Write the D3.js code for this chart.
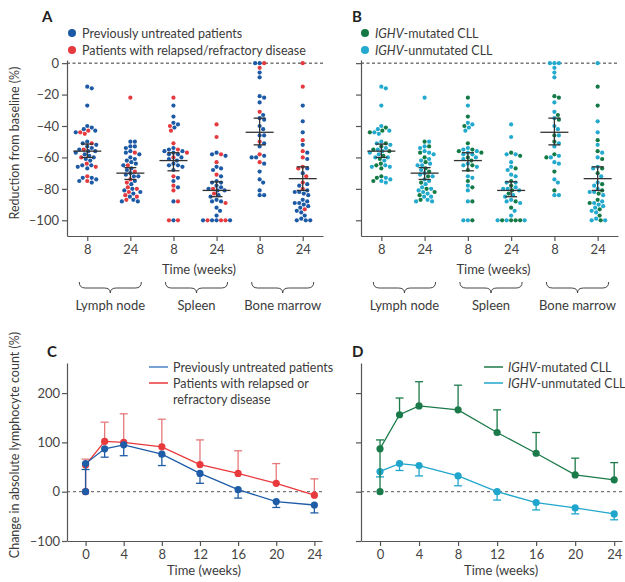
<!DOCTYPE html>
<meta charset="utf-8">
<style>
body { margin: 0; background: #fff; }
svg text { font-family: Lato, "Open Sans", sans-serif; fill: #3b3b3b; }
.axis path, .axis line { stroke: #555; stroke-width: 1.2; }
.axis text { font-size: 13px; fill: #444; font-family: Lato, "Open Sans", sans-serif; }
</style>
<script src="https://cdnjs.cloudflare.com/ajax/libs/d3/7.8.5/d3.min.js"></script>
<div id="chart"></div>
<script>
// categories
var sites = ["Lymph node", "Spleen", "Bone marrow"];
var weekTicks = ["8", "24"];
var columns = ["LN8", "LN24", "SP8", "SP24", "BM8", "BM24"];

// reduction from baseline (%) per patient; U/R = untreated / relapsed, M/N = IGHV mutated / unmutated
var lymph8 = [-15,-16,-27,-40,-41,-42,-43,-43,-44,-44,-45,-50,-51,-51,-52,-53,-54,-55,-55,-56,-56,-57,-58,-59,-60,-60,-61,-62,-64,-65,-65,-66,-66,-67,-72,-73,-73,-74,-75,-75,-76];
var lymph8Treat = "UUUUUURURURURUUUURUUUUUURUUURUURUURUUURUU";
var lymph8Ighv  = "NNNNMNMNNMNNMNNMNNMNMNNMNNMNMNMNNMMNMNNMN";

var lymph24 = [-22,-50,-50,-53,-53,-54,-56,-57,-57,-58,-60,-61,-62,-63,-64,-65,-65,-67,-68,-69,-70,-71,-72,-72,-74,-75,-76,-77,-79,-80,-80,-81,-82,-82,-83,-84,-85,-85,-87,-87,-88,-88];
var lymph24Treat = "RUUUUUURUUUUUUURUUURUUUURURURURURUURURURUU";
var lymph24Ighv  = "NMNNMNNNMNMNNMNNNMNMNNMNNNMNNMNNNMNMNNNMNN";

var spleen8 = [-22,-27,-34,-38,-39,-40,-41,-43,-51,-54,-55,-55,-56,-56,-57,-57,-58,-58,-60,-60,-61,-62,-64,-65,-65,-66,-68,-72,-73,-75,-78,-79,-81,-88,-88,-100,-100,-100];
var spleen8Treat = "RUUUURURRURUUUURUURUUUUUUUURUURURURURR";
var spleen8Ighv  = "MNMNNMNNMNMNNMNMNNMNNMNMNNMNNMNMNNMNMN";

var spleen24 = [-39,-47,-57,-58,-58,-59,-63,-66,-67,-68,-71,-72,-75,-76,-76,-78,-79,-80,-80,-81,-81,-83,-84,-85,-87,-88,-88,-89,-92,-94,-97,-100,-100,-100,-100,-100,-100,-100];
var spleen24Treat = "RRURUURUUURUUUUUURUUURUUUUURUUUURURRUU";
var spleen24Ighv  = "NNMNNMNNMNNNMNNMNNNMNMNNNMNNMNNMMNMMNN";

var marrow8 = [0,0,0,-3,-6,-9,-21,-22,-25,-31,-33,-35,-36,-40,-42,-46,-46,-50,-51,-53,-58,-59,-60,-60,-63,-64,-69,-74,-76,-81,-84,-84];
var marrow8Treat = "URURUUUUURUUUUUUURUURUUURUUUUUUU";
var marrow8Ighv  = "NNNNNNMMNNMNMNNMNMNNMNNMNNMNNMNN";

var marrow24 = [0,-15,-27,-37,-44,-49,-52,-56,-57,-60,-61,-66,-67,-67,-70,-72,-76,-77,-78,-80,-81,-82,-82,-83,-84,-87,-88,-89,-89,-90,-91,-92,-93,-94,-95,-97,-99,-100,-100,-100];
var marrow24Treat = "RRUUURURURURURURRUURUUUUUUUUUUUURUUUUUUU";
var marrow24Ighv  = "NMMNNMNMNNMNMNMNNMNNMNNMNMNNMNNNMNNMNMNN";

// mean and 95% CI per column
var colMean = [-56, -70, -62, -81, -44, -73.5];
var colLow  = [-60, -74, -68.5, -85, -52, -81];
var colHigh = [-51.5, -66.5, -57, -75.5, -35, -66];

// change in absolute lymphocyte count (%)
var lcWeeks = [0, 0, 2, 4, 8, 12, 16, 20, 24];
var untreatedMean = [0, 57, 87, 95, 76, 37, 4, -20, -27];
var untreatedLow  = [null, 45, 70, 73, 53, 17, -13, -32, -43];
var relapsedMean  = [0, 54, 102, 100, 91, 55, 37, 17, -7];
var relapsedHigh  = [null, 66, 141, 158, 147, 105, 83, 57, 26];
var mutatedMean   = [0, 87, 156, 174, 166, 120, 78, 34, 24];
var mutatedHigh   = [null, 105, 190, 223, 216, 166, 120, 68, 59];
var unmutatedMean = [null, 41, 57, 53, 32, 0, -22, -33, -45];
var unmutatedLow  = [null, 30, 43, 32, 12, -17, -37, -45, -57];

var colVals  = [lymph8, lymph24, spleen8, spleen24, marrow8, marrow24];
var colTreat = [lymph8Treat, lymph24Treat, spleen8Treat, spleen24Treat, marrow8Treat, marrow24Treat];
var colIghv  = [lymph8Ighv, lymph24Ighv, spleen8Ighv, spleen24Ighv, marrow8Ighv, marrow24Ighv];

var BLUE = "#1d5aa6", RED = "#e53a3f", GREEN = "#137a46", CYAN = "#22a9cd";

var svg = d3.select("#chart").append("svg")
    .attr("width", 625)
    .attr("height", 582);

var minus = function(d) { return d < 0 ? "\u2013" + Math.abs(d) : d; };

// simple beeswarm: push each dot sideways until it does not overlap
function dodge(vals, scale, dia) {
  var placed = [];
  return vals.map(function(v) {
    var y = scale(v), off = 0;
    for (var k = 0; k < 200; k++) {
      var o = (k % 2 ? 1 : -1) * Math.ceil(k / 2) * 0.5;
      var ok = placed.every(function(p) {
        var dx = o - p.o, dy = y - p.y;
        return dx * dx + dy * dy >= dia * dia;
      });
      if (ok) { off = o; break; }
    }
    var pt = {o: off, y: y};
    placed.push(pt);
    return pt;
  });
}

var yA = d3.scaleLinear().domain([-110, 2]).range([236, 60]);

function dotPanel(left, right, codes, palette, showLabels) {
  var x = d3.scalePoint().domain(columns).range([left, right]).padding(0.47);
  var g = svg.append("g");

  g.append("line")
    .attr("x1", left).attr("x2", right)
    .attr("y1", yA(0)).attr("y2", yA(0))
    .attr("stroke", "#333").attr("stroke-width", 1)
    .attr("stroke-dasharray", "3,2.5");

  g.append("g").attr("class", "axis")
    .attr("transform", "translate(" + left + ",0)")
    .call(d3.axisLeft(yA).tickValues([0, -20, -40, -60, -80, -100])
      .tickSize(5).tickSizeOuter(0).tickPadding(3)
      .tickFormat(showLabels ? minus : ""));

  g.append("g").attr("class", "axis")
    .attr("transform", "translate(0,236)")
    .call(d3.axisBottom(x).tickSize(5).tickSizeOuter(0).tickPadding(4)
      .tickFormat(function(d, i) { return weekTicks[i % 2]; }));

  columns.forEach(function(c, i) {
    var pos = dodge(colVals[i], yA, 4.5);
    g.selectAll(".dot" + c)
      .data(colVals[i])
      .enter().append("circle")
        .attr("cx", function(d, j) { return x(c) + pos[j].o; })
        .attr("cy", function(d, j) { return pos[j].y; })
        .attr("r", 2.1)
        .attr("fill", function(d, j) { return palette[codes[i].charAt(j)] || palette.def; });

    var cx = x(c);
    g.append("line").attr("x1", cx - 14).attr("x2", cx + 14)
      .attr("y1", yA(colMean[i])).attr("y2", yA(colMean[i]))
      .attr("stroke", "#333").attr("stroke-width", 1.3);
    g.append("line").attr("x1", cx).attr("x2", cx)
      .attr("y1", yA(colLow[i])).attr("y2", yA(colHigh[i]))
      .attr("stroke", "#333").attr("stroke-width", 1.3);
    [colLow[i], colHigh[i]].forEach(function(v) {
      g.append("line").attr("x1", cx - 6).attr("x2", cx + 6)
        .attr("y1", yA(v)).attr("y2", yA(v))
        .attr("stroke", "#333").attr("stroke-width", 1.3);
    });
  });

  // braces + site names
  sites.forEach(function(s, i) {
    var x0 = x(columns[i * 2]) - 8, x1 = x(columns[i * 2 + 1]) + 11, m = (x0 + x1) / 2;
    var p = "M" + x0 + ",282 Q" + x0 + ",288 " + (x0 + 6) + ",288 L" + (m - 6) + ",288 Q" + m + ",288 " + m + ",293" +
            " Q" + m + ",288 " + (m + 6) + ",288 L" + (x1 - 6) + ",288 Q" + x1 + ",288 " + x1 + ",282";
    g.append("path").attr("d", p).attr("fill", "none").attr("stroke", "#444").attr("stroke-width", 1);
    g.append("text").attr("x", m).attr("y", 310).attr("text-anchor", "middle")
      .style("font-size", "13px").text(s);
  });

  g.append("text").attr("x", (x(columns[0]) + x(columns[5])) / 2 + 4).attr("y", 274)
    .attr("text-anchor", "middle").style("font-size", "13px").text("Time (weeks)");
}

dotPanel(67, 323, colTreat, {U: BLUE, R: RED, def: BLUE}, true);
dotPanel(361, 618, colIghv, {M: GREEN, N: CYAN, def: CYAN}, false);

svg.append("text")
  .attr("transform", "translate(19,143) rotate(-90)")
  .attr("text-anchor", "middle").style("font-size", "12.5px")
  .text("Reduction from baseline (%)");

// legends A / B
function dotLegend(x, items) {
  items.forEach(function(it, i) {
    svg.append("circle").attr("cx", x).attr("cy", 33 + i * 17).attr("r", 4).attr("fill", it.c);
    var t = svg.append("text").attr("x", x + 10).attr("y", 37.5 + i * 17).style("font-size", "12.5px");
    if (it.it) {
      t.append("tspan").style("font-style", "italic").text(it.it);
    }
    t.append("tspan").text(it.t);
  });
}
dotLegend(72, [{c: BLUE, t: "Previously untreated patients"}, {c: RED, t: "Patients with relapsed/refractory disease"}]);
dotLegend(365, [{c: GREEN, it: "IGHV", t: "-mutated CLL"}, {c: CYAN, it: "IGHV", t: "-unmutated CLL"}]);

// panel letters
[["A", 42, 22], ["B", 352, 22], ["C", 47, 357], ["D", 352, 357]].forEach(function(l) {
  svg.append("text").attr("x", l[1]).attr("y", l[2])
    .style("font-size", "15px").style("font-weight", "bold").style("fill", "#222").text(l[0]);
});

// line panels
var yC = d3.scaleLinear().domain([-100, 261]).range([541, 363]);

function linePanel(left, right, series, showLabels) {
  var x = d3.scaleLinear().domain([-1.95, 24.8]).range([left, right]);
  var g = svg.append("g");

  g.append("line").attr("x1", left).attr("x2", right)
    .attr("y1", yC(0)).attr("y2", yC(0))
    .attr("stroke", "#555").attr("stroke-width", 1).attr("stroke-dasharray", "3,3");

  g.append("g").attr("class", "axis")
    .attr("transform", "translate(" + left + ",0)")
    .call(d3.axisLeft(yC).tickValues([-100, 0, 100, 200])
      .tickSize(5).tickSizeOuter(0).tickPadding(2)
      .tickFormat(showLabels ? minus : ""));

  g.append("g").attr("class", "axis")
    .attr("transform", "translate(0,541)")
    .call(d3.axisBottom(x).tickValues([0, 4, 8, 12, 16, 20, 24])
      .tickSize(5).tickSizeOuter(0).tickPadding(4));

  g.append("text").attr("x", (x(0) + x(24)) / 2 + 4).attr("y", 575)
    .attr("text-anchor", "middle").style("font-size", "13px").text("Time (weeks)");

  series.forEach(function(s) {
    var pts = lcWeeks.map(function(w, i) { return {w: w, v: s.mean[i], e: s.err[i]}; })
      .filter(function(p) { return p.v !== null; });
    pts.forEach(function(p) {
      if (p.e === null) return;
      g.append("line").attr("x1", x(p.w)).attr("x2", x(p.w))
        .attr("y1", yC(p.v)).attr("y2", yC(p.e))
        .attr("stroke", s.ec).attr("stroke-width", 1.3);
      g.append("line").attr("x1", x(p.w) - 4).attr("x2", x(p.w) + 4)
        .attr("y1", yC(p.e)).attr("y2", yC(p.e))
        .attr("stroke", s.ec).attr("stroke-width", 1.3);
    });
    g.append("path").datum(pts)
      .attr("fill", "none").attr("stroke", s.c).attr("stroke-width", 1.3)
      .attr("d", d3.line().x(function(d) { return x(d.w); }).y(function(d) { return yC(d.v); }));
    g.selectAll(null).data(pts).enter().append("circle")
      .attr("cx", function(d) { return x(d.w); })
      .attr("cy", function(d) { return yC(d.v); })
      .attr("r", 3.6).attr("fill", s.c);
  });
}

linePanel(67, 322, [
  {mean: relapsedMean, err: relapsedHigh, c: "#e8393c", ec: "#e57a7c"},
  {mean: untreatedMean, err: untreatedLow, c: "#1f5ca8", ec: "#1f5ca8"}
], true);
linePanel(361, 622, [
  {mean: unmutatedMean, err: unmutatedLow, c: "#20a6cc", ec: "#20a6cc"},
  {mean: mutatedMean, err: mutatedHigh, c: "#1b7a49", ec: "#1b7a49"}
], false);

svg.append("text")
  .attr("transform", "translate(19,445) rotate(-90)")
  .attr("text-anchor", "middle").style("font-size", "12.5px")
  .text("Change in absolute lymphocyte count (%)");

// legends C / D
function lineLegend(x, items) {
  items.forEach(function(it, i) {
    svg.append("line").attr("x1", x).attr("x2", x + 19)
      .attr("y1", 367 + i * 16).attr("y2", 367 + i * 16)
      .attr("stroke", it.c).attr("stroke-width", 1.5);
    it.lines.forEach(function(l, k) {
      var t = svg.append("text").attr("x", x + 24).attr("y", 371.5 + i * 16 + k * 16).style("font-size", "12.5px");
      if (it.it) t.append("tspan").style("font-style", "italic").text(it.it);
      t.append("tspan").text(l);
    });
  });
}
lineLegend(149, [
  {c: "#4a83c2", lines: ["Previously untreated patients"]},
  {c: "#e8393c", lines: ["Patients with relapsed or", "refractory disease"]}
]);
lineLegend(484, [
  {c: "#1b7a49", it: "IGHV", lines: ["-mutated CLL"]},
  {c: "#20a6cc", it: "IGHV", lines: ["-unmutated CLL"]}
]);
</script>
